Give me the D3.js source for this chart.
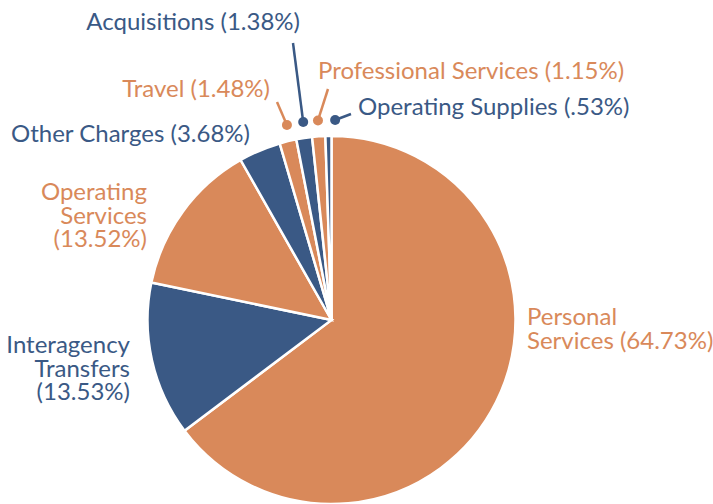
<!DOCTYPE html>
<html>
<head>
<meta charset="utf-8">
<script src="https://cdn.jsdelivr.net/npm/d3@7"></script>
<style>
  body { margin: 0; background: #fff; }
  text { font-family: Lato, "Open Sans", sans-serif; font-size: 24px; }
</style>
</head>
<body>
<svg id="pie"></svg>
<script>
const width = 713;
const height = 504;

// data
const categories = ["Personal Services", "Interagency Transfers", "Operating Services", "Other Charges",
  "Travel", "Acquisitions", "Professional Services", "Operating Supplies"];
const shares = [64.73, 13.53, 13.52, 3.68, 1.48, 1.38, 1.15, 0.53];
const shareLabels = ["64.73%", "13.53%", "13.52%", "3.68%", "1.48%", "1.38%", "1.15%", ".53%"];

// label placement (lines, anchor, first baseline, optional leader end)
const labelLayout = [
  { lines: ["Personal", "Services (64.73%)"], anchor: "start", x: 527, y: 325 },
  { lines: ["Interagency", "Transfers", "(13.53%)"], anchor: "end", x: 130, y: 353 },
  { lines: ["Operating", "Services", "(13.52%)"], anchor: "end", x: 147, y: 200 },
  { lines: ["Other Charges (3.68%)"], anchor: "end", x: 250, y: 142 },
  { lines: ["Travel (1.48%)"], anchor: "end", x: 270, y: 97, leader: [277, 102], nudge: 0.8 },
  { lines: ["Acquisitions (1.38%)"], anchor: "end", x: 300, y: 30, leader: [293, 43], nudge: 0.4 },
  { lines: ["Professional Services (1.15%)"], anchor: "start", x: 318, y: 79, leader: [328, 89], nudge: 0.1 },
  { lines: ["Operating Supplies (.53%)"], anchor: "start", x: 358, y: 115, leader: [351, 114], nudge: 2 }
];

const colors = ["#d9895a", "#3a5985"];
const cx = 331.5, cy = 320, radius = 184;

const svg = d3.select("#pie").attr("width", width).attr("height", height);
const g = svg.append("g").attr("transform", `translate(${cx},${cy})`);

const pie = d3.pie().sort(null).value(d => d.value);
const arcs = pie(categories.map((c, i) => ({ name: c, value: shares[i], i })));
const arc = d3.arc().innerRadius(0).outerRadius(radius);

g.selectAll(".slice")
  .data(arcs)
  .enter().append("path")
  .attr("class", "slice")
  .attr("d", arc)
  .attr("fill", d => colors[d.data.i % 2])
  .attr("stroke", "#fff")
  .attr("stroke-width", 2.5);

// leaders for the thin slices
const dotR = 200;
arcs.forEach(d => {
  const lay = labelLayout[d.data.i];
  const col = colors[d.data.i % 2];
  if (lay.leader) {
    const a = (d.startAngle + d.endAngle) / 2 + (lay.nudge || 0) * Math.PI / 180;
    const px = cx + dotR * Math.sin(a);
    const py = cy - dotR * Math.cos(a);
    svg.append("line")
      .attr("x1", px).attr("y1", py)
      .attr("x2", lay.leader[0]).attr("y2", lay.leader[1])
      .attr("stroke", col).attr("stroke-width", 2.5);
    svg.append("circle")
      .attr("cx", px).attr("cy", py).attr("r", 5)
      .attr("fill", col);
  }
  const t = svg.append("text")
    .attr("text-anchor", lay.anchor)
    .attr("fill", col);
  lay.lines.forEach((line, k) => {
    t.append("tspan")
      .attr("x", lay.x)
      .attr("y", lay.y + k * 23.5)
      .text(line);
  });
});
</script>
</body>
</html>
